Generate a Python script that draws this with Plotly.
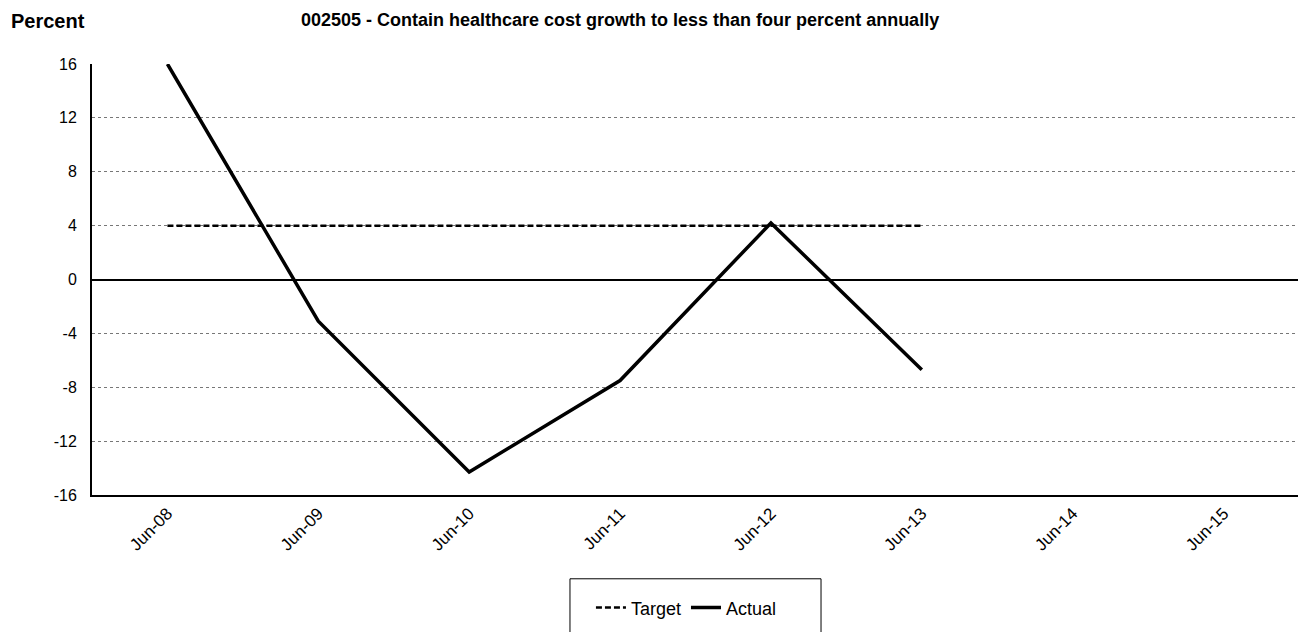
import plotly.graph_objects as go

# data
months = ['Jun-08', 'Jun-09', 'Jun-10', 'Jun-11', 'Jun-12', 'Jun-13', 'Jun-14', 'Jun-15']
target = [4, 4, 4, 4, 4, 4, None, None]
actual = [16.0, -3.1, -14.3, -7.5, 4.2, -6.7, None, None]
y_ticks = [-16, -12, -8, -4, 0, 4, 8, 12, 16]

FONT = 'Liberation Sans, Arial, sans-serif'

fig = go.Figure()
fig.add_trace(go.Scatter(x=months, y=target, name='Target', mode='lines',
                         line=dict(color='black', width=2.5, dash='6px,3px')))
fig.add_trace(go.Scatter(x=months, y=actual, name='Actual', mode='lines',
                         line=dict(color='black', width=3.5)))

# page body has an 8px margin, so the figure is 8px smaller than the window
fig.update_layout(
    width=1298, height=624,
    margin=dict(l=84, r=7, t=56, b=136),
    paper_bgcolor='white', plot_bgcolor='white',
    font=dict(family=FONT, size=14, color='black'),
    showlegend=True,
    legend=dict(orientation='h', x=0.4925, xanchor='center', y=-0.259, yanchor='middle',
                font=dict(size=18), bgcolor='rgba(0,0,0,0)', borderwidth=0,
                itemwidth=30),
    annotations=[
        dict(text='<b>Percent</b>', xref='paper', yref='paper', x=-0.0685, y=1.1296,
             xanchor='left', yanchor='top', showarrow=False, font=dict(size=20)),
        dict(text='<b>002505 - Contain healthcare cost growth to less than four percent annually</b>',
             xref='paper', yref='paper', x=0.1715, y=1.1296,
             xanchor='left', yanchor='top', showarrow=False, font=dict(size=18)),
    ],
    shapes=[
        # legend box (runs off the bottom of the page in the original)
        dict(type='rect', xref='paper', yref='paper', x0=0.396, x1=0.604,
             y0=-0.1944, y1=-0.34, line=dict(color='black', width=1)),
        # right border of plot area
        dict(type='line', xref='paper', yref='paper', x0=1, x1=1, y0=0, y1=1,
             line=dict(color='#888888', width=1)),
    ],
)

fig.update_xaxes(type='category', categoryorder='array', categoryarray=months,
                 range=[-0.5, 7.5], tickangle=-45, showgrid=False,
                 showline=True, linecolor='black', linewidth=2, mirror=False,
                 ticks='', tickfont=dict(size=17))
fig.update_yaxes(range=[-16, 16], tickvals=y_ticks, ticktext=[str(v) for v in y_ticks],
                 showgrid=True, gridcolor='#777777', griddash='dot', gridwidth=1,
                 zeroline=True, zerolinecolor='black', zerolinewidth=2,
                 showline=True, linecolor='black', linewidth=2,
                 ticks='', ticklabelstandoff=10, tickfont=dict(size=16))

fig.write_html("out.html")
